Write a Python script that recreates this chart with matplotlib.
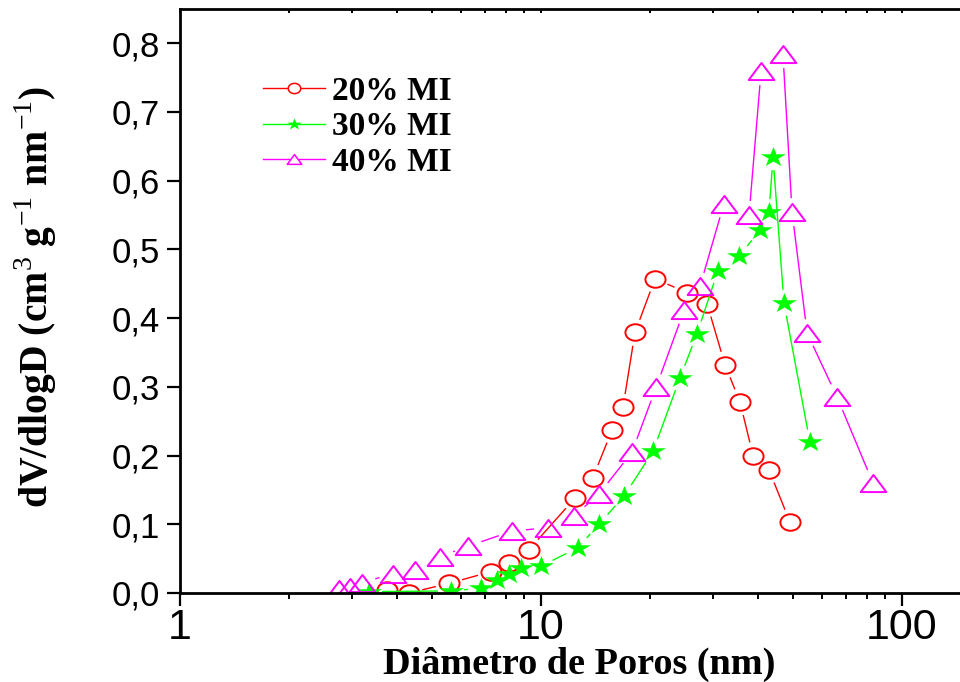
import numpy as np
import matplotlib
matplotlib.use("Agg")
import matplotlib.pyplot as plt
from matplotlib.path import Path
from matplotlib.transforms import Affine2D
from matplotlib.lines import Line2D
from matplotlib.ticker import FixedLocator, FuncFormatter, LogLocator, NullFormatter

# Pore size distributions (BJH): diameter in nm, dV/dlogD in cm3 g-1 nm-1
diam_20 = [3.74, 4.31, 5.56, 7.27, 8.15, 9.26, 12.42, 13.93, 15.73, 16.87, 18.21,
           20.69, 25.37, 28.83, 32.33, 35.58, 38.67, 42.81, 48.96]
dv_20 = [0.004, 0.000, 0.014, 0.031, 0.044, 0.063, 0.138, 0.168, 0.237, 0.270, 0.379,
         0.457, 0.437, 0.421, 0.332, 0.278, 0.200, 0.179, 0.103]

diam_30 = [3.34, 5.63, 6.82, 7.55, 8.15, 8.80, 10.0, 12.66, 14.48, 16.98, 20.43,
           24.27, 27.05, 30.92, 35.37, 40.44, 42.81, 43.93, 47.10, 55.60]
dv_30 = [0.002, 0.003, 0.007, 0.019, 0.027, 0.037, 0.039, 0.066, 0.100, 0.141, 0.206,
         0.313, 0.377, 0.469, 0.490, 0.528, 0.554, 0.634, 0.422, 0.219]

diam_40 = [2.76, 2.96, 3.19, 3.89, 4.48, 5.25, 6.28, 8.31, 10.45, 12.34, 14.48, 17.87,
           20.83, 24.90, 27.57, 32.10, 37.70, 40.70, 46.80, 49.60, 54.60, 66.10, 83.10]
dv_40 = [0.006, 0.009, 0.015, 0.028, 0.033, 0.053, 0.068, 0.090, 0.095, 0.112, 0.144, 0.205,
         0.299, 0.411, 0.446, 0.566, 0.550, 0.759, 0.784, 0.554, 0.378, 0.285, 0.160]

labels = ["20% MI", "30% MI", "40% MI"]
colors = ["#ff0000", "#00ff00", "#ff00ff"]
x_ticks = [1, 10, 100]
y_ticks = [0.0, 0.1, 0.2, 0.3, 0.4, 0.5, 0.6, 0.7, 0.8]

plt.rcParams["mathtext.fontset"] = "custom"
plt.rcParams["mathtext.rm"] = "Liberation Serif"
plt.rcParams["mathtext.bf"] = "Liberation Serif:bold"
SERIF = ["Liberation Serif", "DejaVu Serif"]
SANS = ["Liberation Sans", "DejaVu Sans"]

# Marker shapes (slightly wide, Origin-like)
ellipse = Affine2D().scale(1.0, 0.82).transform_path(Path.unit_circle())
triangle = Path([(-1, -0.667), (1, -0.667), (0, 0.667), (-1, -0.667)],
                [Path.MOVETO, Path.LINETO, Path.LINETO, Path.CLOSEPOLY])
star = Affine2D().scale(1.25, 1.0).transform_path(Path.unit_regular_star(5, 0.381966))

W, H, DPI = 960, 682, 100
fig = plt.figure(figsize=(W / DPI, H / DPI), dpi=DPI)
ax = fig.add_axes([180 / W, 89 / H, 790 / W, 584 / H])
ax.set_xscale("log")
ax.set_xlim(1, 10 ** (790 / 361))
ax.set_ylim(0, 0.8495)


def gapped_line(ax, x, y, gap_px, **kw):
    """Connect points with straight segments that stop short of each marker."""
    pts = ax.transData.transform(np.column_stack([x, y]))
    inv = ax.transData.inverted()
    sx, sy = [], []
    for p0, p1 in zip(pts[:-1], pts[1:]):
        d = p1 - p0
        L = np.hypot(d[0], d[1])
        if L <= 2 * gap_px + 1:
            continue
        u = d / L
        a = inv.transform(p0 + u * gap_px)
        b = inv.transform(p1 - u * gap_px)
        sx += [a[0], b[0], np.nan]
        sy += [a[1], b[1], np.nan]
    ax.plot(sx, sy, color=kw.pop("color"), lw=kw.pop("lw", 1.0), solid_capstyle="butt", **kw)


series = [
    (diam_20, dv_20, colors[0], ellipse, 14.5, "none", 1.4, 13.5),
    (diam_30, dv_30, colors[1], star, 18.0, colors[1], 0.0, 13.0),
    (diam_40, dv_40, colors[2], triangle, 18.5, "none", 1.4, 14.0),
]
for x, y, c, m, ms, mfc, mew, gap in series:
    gapped_line(ax, x, y, gap, color=c, lw=1.0)
    ax.plot(x, y, ls="none", marker=m, ms=ms, mfc=mfc, mec=c, mew=mew, color=c)

# Axes styling
for side in ["left", "bottom", "top"]:
    ax.spines[side].set_linewidth(2.0)
ax.spines["right"].set_visible(False)

ax.xaxis.set_major_locator(FixedLocator(x_ticks))
ax.xaxis.set_major_formatter(FuncFormatter(lambda v, p: f"{v:g}"))
ax.xaxis.set_minor_locator(LogLocator(base=10, subs=np.arange(2, 10)))
ax.xaxis.set_minor_formatter(NullFormatter())
ax.yaxis.set_major_locator(FixedLocator(y_ticks))
ax.yaxis.set_major_formatter(FuncFormatter(lambda v, p: f"{v:.1f}".replace(".", ",")))

ax.tick_params(axis="y", which="major", direction="out", length=9.5, width=1.6,
               labelsize=25, pad=5)
ax.tick_params(axis="x", which="major", direction="out", length=9, width=1.6,
               labelsize=31, pad=2)
ax.tick_params(axis="x", which="minor", direction="out", length=4.5, width=1.4)
for lab in ax.get_xticklabels() + ax.get_yticklabels():
    lab.set_family(SANS)

# Small inward ticks along the top edge
top = ax.twiny()
top.set_xscale("log")
top.set_xlim(ax.get_xlim())
top.xaxis.set_major_locator(FixedLocator(x_ticks))
top.xaxis.set_minor_locator(LogLocator(base=10, subs=np.arange(2, 10)))
top.xaxis.set_major_formatter(NullFormatter())
top.xaxis.set_minor_formatter(NullFormatter())
top.tick_params(axis="x", which="both", direction="in", length=3, width=1.4, labeltop=False)
for s in top.spines.values():
    s.set_visible(False)

ax.set_xlabel("Diâmetro de Poros (nm)", fontsize=27.5, fontweight="bold", family=SERIF)
ax.xaxis.set_label_coords(0.505, -0.092)
ax.set_ylabel(r"dV/dlogD (cm$^{\mathrm{3}}$ g$^{\mathrm{ -1}}$ nm$^{\mathrm{ -1}}$)",
              fontsize=28.5, fontweight="bold", family=SERIF)
ax.yaxis.set_label_coords(-0.153, 0.507)

handles = [
    Line2D([], [], color=colors[0], lw=1.0, marker=ellipse, ms=9, mfc="white", mec=colors[0], mew=1.1),
    Line2D([], [], color=colors[1], lw=1.0, marker=star, ms=10.5, mfc=colors[1], mec=colors[1], mew=0),
    Line2D([], [], color=colors[2], lw=1.0, marker=triangle, ms=10.5, mfc="white", mec=colors[2], mew=1.1),
]
leg = ax.legend(handles, labels, loc="upper left", bbox_to_anchor=(0.105, 0.886),
                frameon=False, borderpad=0, borderaxespad=0, handlelength=1.86,
                handletextpad=0.22, labelspacing=0.14,
                prop={"family": SERIF, "weight": "bold", "size": 24})

fig.savefig("out.png", dpi=DPI)
